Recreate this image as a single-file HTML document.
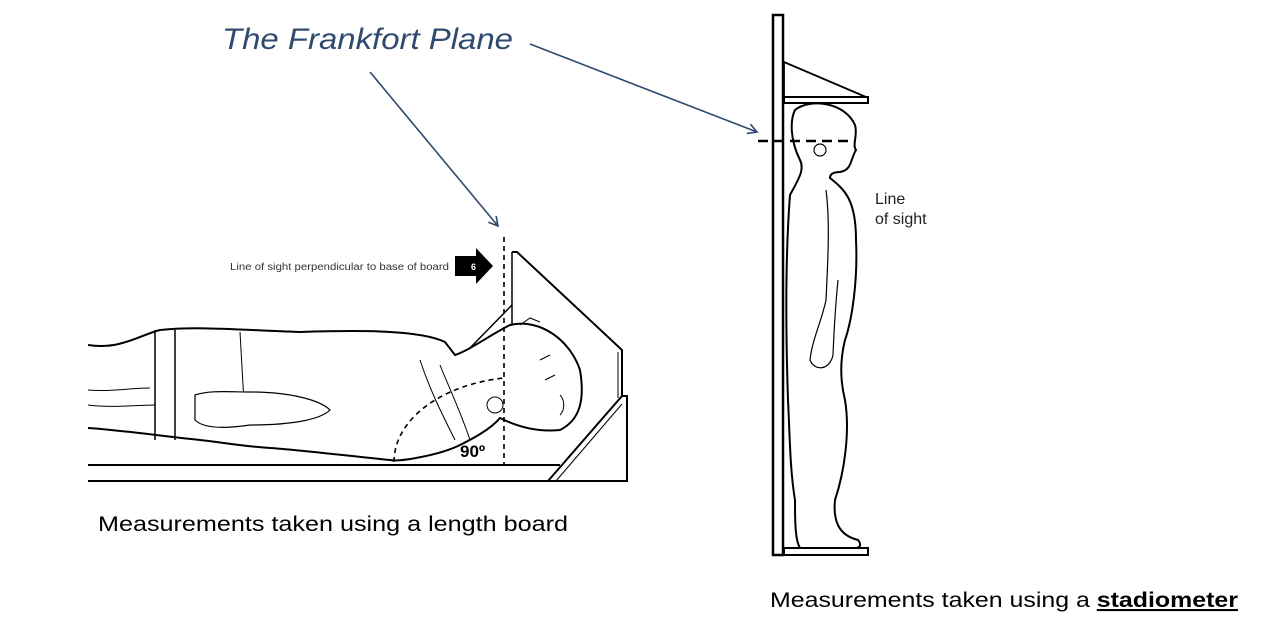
<!DOCTYPE html>
<html><head><meta charset="utf-8"><style>
html,body{margin:0;padding:0;background:#fff;width:1270px;height:640px;overflow:hidden}
svg{display:block}
text{font-family:"Liberation Sans",sans-serif}
</style></head><body>
<svg width="1270" height="640" viewBox="0 0 1270 640" xmlns="http://www.w3.org/2000/svg">
<defs>
<marker id="ah" markerWidth="12" markerHeight="12" refX="10" refY="6" orient="auto" markerUnits="userSpaceOnUse">
<path d="M1,1 L10,6 L1,11" fill="none" stroke="#2f4a6e" stroke-width="1.6"/>
</marker>
</defs>
<!-- Title -->
<text x="222" y="49" font-size="30" font-style="italic" fill="#2f4a6e" textLength="291" lengthAdjust="spacingAndGlyphs">The Frankfort Plane</text>
<line x1="370" y1="72" x2="498" y2="226" stroke="#2f4a6e" stroke-width="1.6" marker-end="url(#ah)"/>
<line x1="530" y1="44" x2="757" y2="132" stroke="#2f4a6e" stroke-width="1.6" marker-end="url(#ah)"/>

<!-- Length board -->
<g stroke="#000" fill="none" stroke-width="2">
<line x1="88" y1="465" x2="560" y2="465"/>
<line x1="88" y1="481" x2="560" y2="481"/>
<path d="M548,481 L622,396 L627,396 L627,481 Z" fill="#fff"/>
<line x1="556" y1="481" x2="622" y2="404" stroke-width="1"/>
<path d="M512,252 L517,252 L622,350 L622,396" />
<line x1="512" y1="252" x2="512" y2="395" stroke-width="1.5"/>
<path d="M618,352 L618,398" stroke-width="1"/>
<!-- headboard triangle side -->
<path d="M512,305 L470,348" stroke-width="1.5"/>
<!-- body -->
<path d="M88,345 C120,350 140,335 160,330 C200,326 240,330 300,332 C360,330 420,330 445,342 L455,355 C470,350 490,335 510,325 C540,318 570,340 580,370 C585,400 580,420 560,430 C540,432 520,428 500,418 C490,430 470,440 460,445 C440,455 400,462 390,460 C340,455 300,450 270,448 C240,446 220,442 200,440 C160,436 120,430 88,428" stroke-width="2" fill="#fff"/>
<path d="M155,330 L155,440 M175,330 L175,440" stroke-width="1.5"/>
<path d="M240,332 L245,420 M420,360 C430,390 440,410 455,440 M440,365 C450,390 460,410 470,440" stroke-width="1"/>
<path d="M195,395 C210,390 230,392 250,392 C290,392 320,400 330,410 C320,420 290,425 250,425 C230,428 205,430 195,420 Z" stroke-width="1.2" fill="#fff"/>
<path d="M88,390 C110,392 130,388 150,388 M88,405 C110,408 140,405 155,405" stroke-width="1"/>
<path d="M520,325 L530,318 L540,322 M540,360 L550,355 M545,380 L555,375 M560,395 C565,400 565,410 560,415" stroke-width="1"/>
<circle cx="495" cy="405" r="8" stroke-width="1"/>
</g>
<line x1="504" y1="237" x2="504" y2="465" stroke="#000" stroke-width="1.6" stroke-dasharray="5,4"/>
<path d="M394,462 C394,420 440,385 504,378" fill="none" stroke="#000" stroke-width="1.6" stroke-dasharray="5,4"/>
<text x="460" y="457" font-size="17" font-weight="bold">90º</text>
<path d="M455,256 L476,256 L476,248 L493,266 L476,284 L476,276 L455,276 Z" fill="#000"/>
<text x="471" y="270" font-size="9" font-weight="bold" fill="#fff">6</text>
<text x="230" y="270" font-size="10" fill="#333" textLength="219" lengthAdjust="spacingAndGlyphs">Line of sight perpendicular to base of board</text>
<text x="98" y="531" font-size="21" textLength="470" lengthAdjust="spacingAndGlyphs">Measurements taken using a length board</text>

<!-- Stadiometer -->
<g stroke="#000" fill="none" stroke-width="2.5">
<rect x="773" y="15" width="10" height="540" fill="#fff"/>
<path d="M784,62 L784,97 L866,97 Z" stroke-width="1.8"/>
<rect x="784" y="97" width="84" height="6" stroke-width="2"/>
<rect x="784" y="548" width="84" height="7" stroke-width="2"/>
<!-- child -->
<path d="M795,110 C810,98 845,102 855,125 C858,135 852,145 856,150 C850,160 852,170 840,172 C832,172 830,175 830,178 C845,190 856,200 856,240 C858,280 852,320 845,340 C840,360 840,380 845,400 C850,430 845,470 835,500 C833,520 838,535 858,540 C862,545 860,548 855,548 L800,548 C795,540 795,520 795,500 C790,470 790,440 788,400 C786,340 785,260 790,195 C798,180 805,170 800,160 C790,140 790,120 795,110 Z" fill="#fff" stroke-width="2"/>
<path d="M826,190 C830,220 828,260 826,300 C822,320 812,340 810,360 C815,372 830,370 833,355 C834,330 836,300 838,280" stroke-width="1.2"/>
<circle cx="820" cy="150" r="6" stroke-width="1.2"/>
</g>
<line x1="758" y1="141" x2="850" y2="141" stroke="#000" stroke-width="2.5" stroke-dasharray="10,6"/>
<text x="875" y="204" font-size="16" fill="#222">Line</text>
<text x="875" y="224" font-size="16" fill="#222">of sight</text>
<text x="770" y="607" font-size="21" textLength="468" lengthAdjust="spacingAndGlyphs">Measurements taken using a <tspan font-weight="bold" text-decoration="underline">stadiometer</tspan></text>
<line x1="1098" y1="610" x2="1238" y2="610" stroke="#000" stroke-width="1.5"/>
</svg>
</body></html>
